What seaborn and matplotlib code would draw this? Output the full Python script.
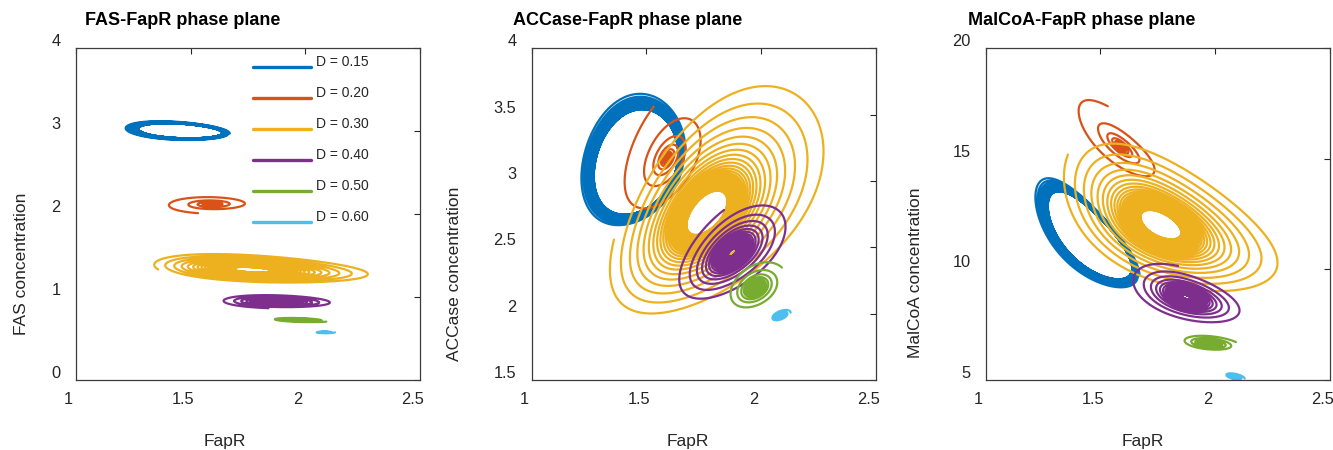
import numpy as np
import pandas as pd
import matplotlib
matplotlib.use("Agg")
import matplotlib.pyplot as plt
from matplotlib.lines import Line2D
from matplotlib.ticker import FixedLocator, FuncFormatter
from matplotlib.transforms import ScaledTranslation
import seaborn as sns

# Dilution rates and line colours
dilution = [0.15, 0.20, 0.30, 0.40, 0.50, 0.60]
colors = ["#0072BD", "#D95319", "#EDB120", "#7E2F8E", "#77AC30", "#4DBEEE"]

# FapR oscillation about its steady state (log amplitude) for each dilution rate
fapr_center = [1.445, 1.59, 1.762, 1.875, 1.975, 2.085]
fapr_amp_start = [0.161, 0.143, 0.275, 0.140, 0.066, 0.021]
fapr_amp_final = [0.124, 0.0, 0.035, 0.0, 0.0, 0.002]
decay_scale_turns = [10, 4, 12, 4, 3, 3]
decay_power = [2.0, 3.0, 2.0, 1.1, 1.25, 1.5]
n_turns = [25, 10, 36, 40, 30, 20]
start_phase_deg = [0, 105, 161, 98, 30, 0]
fapr_drift = [-0.43, 0.0, 0.0, 0.0, 0.0, 0.0]

# Partner species: steady state, relative log amplitude, phase lag (deg)
fas_center = [3.004, 2.12, 1.33, 0.944, 0.725, 0.575]
fas_gain = [0.24, 0.38, 0.50, 0.65, 0.60, 1.0]
fas_lag = [106, -90, -110, -100, -110, -90]

accase_center = [3.118, 3.17, 2.756, 2.46, 2.195, 1.985]
accase_gain = [1.0, 1.15, 1.2, 1.2, 1.33, 1.1]
accase_lag = [78, 60, 58, 55, 70, 60]

malcoa_center = [11.37, 15.55, 12.01, 8.75, 6.65, 5.15]
malcoa_gain = [1.37, 0.95, 1.1, 1.15, 0.85, 1.6]
malcoa_lag = [135, 140, 122, 120, 110, 120]

labels = [f"D = {d:.2f}" for d in dilution]

rows = []
for i, lab in enumerate(labels):
    th0 = np.deg2rad(start_phase_deg[i])
    theta = th0 + np.linspace(0, 2 * np.pi * n_turns[i], 500 * n_turns[i])
    turns = (theta - th0) / (2 * np.pi)
    excess = (fapr_amp_start[i] - fapr_amp_final[i]) * (1 + turns / decay_scale_turns[i]) ** (-decay_power[i])
    amp = fapr_amp_final[i] + excess
    fapr = fapr_center[i] * np.exp(amp * np.cos(theta) + fapr_drift[i] * excess)

    def partner(c, g, lag):
        return c[i] * np.exp(g[i] * amp * np.cos(theta - np.deg2rad(lag[i])))

    rows.append(pd.DataFrame({
        "D": lab,
        "FapR": fapr,
        "FAS": partner(fas_center, fas_gain, fas_lag),
        "ACCase": partner(accase_center, accase_gain, accase_lag),
        "MalCoA": partner(malcoa_center, malcoa_gain, malcoa_lag),
    }))
df = pd.concat(rows, ignore_index=True)

sns.set_style("white")
plt.rcParams["font.family"] = ["Liberation Sans", "DejaVu Sans"]

fig = plt.figure(figsize=(13.33, 4.5), dpi=100)
W, H = 1333.0, 450.0
panels = [
    dict(y="FAS", title="FAS-FapR phase plane", ylabel="FAS concentration",
         left=76, yticks=[0, 1, 2, 3, 4], ylim=(0, 4),
         title_x=0.026, ylab=(-0.137, 0.35), xlab=(0.433, -0.163)),
    dict(y="ACCase", title="ACCase-FapR phase plane", ylabel="ACCase concentration",
         left=531.7, yticks=[1.5, 2, 2.5, 3, 3.5, 4], ylim=(1.5, 4),
         title_x=-0.055, ylab=(-0.204, 0.32), xlab=(0.455, -0.163)),
    dict(y="MalCoA", title="MalCoA-FapR phase plane", ylabel="MalCoA concentration",
         left=985.7, yticks=[5, 10, 15, 20], ylim=(5, 20),
         title_x=-0.052, ylab=(-0.181, 0.322), xlab=(0.458, -0.163)),
]

ink = "#262626"
fmt = FuncFormatter(lambda v, p: f"{v:g}")
for k, p in enumerate(panels):
    ax = fig.add_axes([p["left"] / W, 70 / H, 344 / W, 331.7 / H])
    sns.lineplot(data=df, x="FapR", y=p["y"], hue="D", hue_order=labels,
                 palette=colors, sort=False, estimator=None, linewidth=1.6,
                 legend=False, ax=ax)
    ax.set_xlim(1, 2.5)
    ax.set_ylim(*p["ylim"])
    ax.xaxis.set_major_locator(FixedLocator([1, 1.5, 2, 2.5]))
    ax.yaxis.set_major_locator(FixedLocator(p["yticks"]))
    ax.xaxis.set_major_formatter(fmt)
    ax.yaxis.set_major_formatter(fmt)
    ax.tick_params(direction="in", length=4, width=0.8, color=ink,
                   top=True, right=True, labelsize=11.8, labelcolor=ink)
    ax.tick_params(axis="x", pad=8.5)
    ax.tick_params(axis="y", pad=11)
    for s in ax.spines.values():
        s.set_visible(True)
        s.set_color("#3c3c3c")
        s.set_linewidth(0.9)
    ax.set_xlabel("FapR", fontsize=12.5, color=ink)
    ax.set_ylabel(p["ylabel"], fontsize=12.5, color=ink)
    ax.xaxis.set_label_coords(*p["xlab"])
    ax.yaxis.set_label_coords(*p["ylab"])
    ax.text(p["title_x"], 1.084, p["title"], transform=ax.transAxes,
            ha="left", va="center", fontsize=13, fontweight="bold", color="black")

    shift_x = ScaledTranslation(-0.075, 0, fig.dpi_scale_trans)
    shift_y = ScaledTranslation(0, 0.08, fig.dpi_scale_trans)
    for t in ax.xaxis.get_major_ticks():
        t.label1.set_transform(t.label1.get_transform() + shift_x)
    for t in ax.yaxis.get_major_ticks():
        t.label1.set_transform(t.label1.get_transform() + shift_y)

    if k == 0:
        handles = [Line2D([], [], color=c, lw=2.4) for c in colors]
        leg = ax.legend(handles, labels, loc="upper left", bbox_to_anchor=(0.515, 0.962),
                        frameon=False, fontsize=10, handlelength=4.2, handletextpad=0.3,
                        labelspacing=1.22, borderpad=0, borderaxespad=0)
        lift = ScaledTranslation(0, 0.06, fig.dpi_scale_trans)
        for txt in leg.get_texts():
            txt.set_transform(txt.get_transform() + lift)

fig.savefig("out.png", dpi=100)
